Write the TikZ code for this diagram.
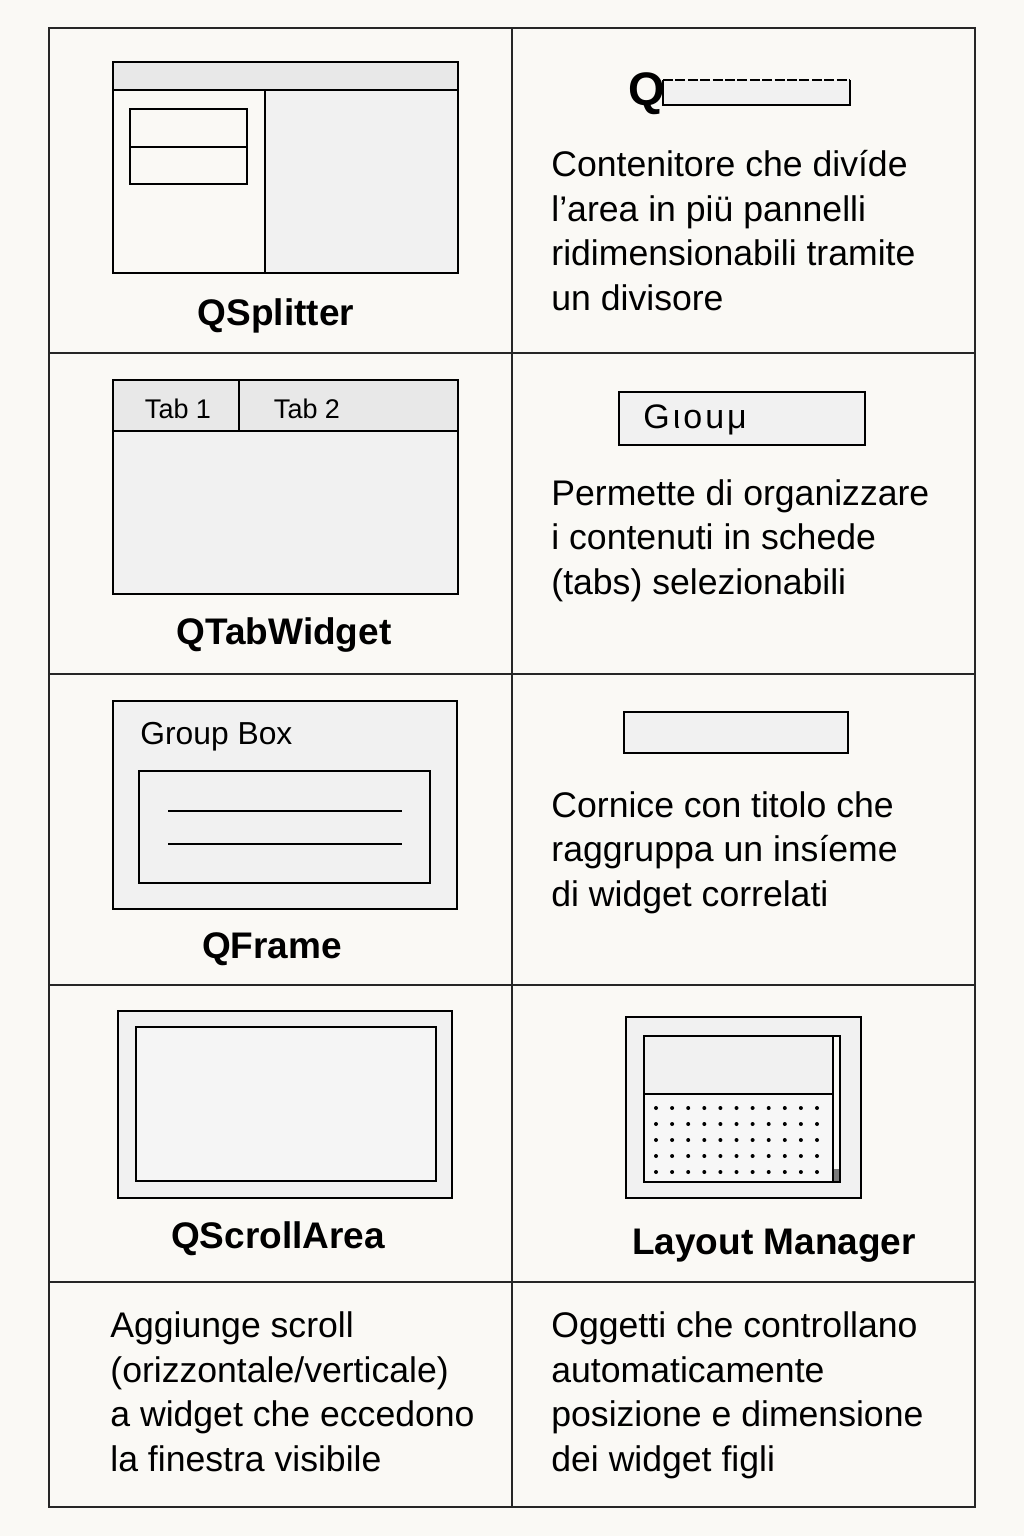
\documentclass[tikz,border=0pt]{standalone}
\usepackage{fontspec}
\setmainfont{Liberation Sans}
\definecolor{paper}{HTML}{FAF9F5}
\definecolor{panel}{HTML}{F1F1F1}
\definecolor{bar}{HTML}{E8E8E8}
\definecolor{thumb}{HTML}{7A7A7A}

\tikzstyle{grid} = [draw=black!85, line width=0.8pt]
\tikzstyle{frame} = [draw=black, line width=1.4pt]
\tikzstyle{desc} = [anchor=base west, align=left, inner sep=0pt, font=\fontsize{17.8}{22.2}\selectfont]
\tikzstyle{title} = [anchor=base, inner sep=0pt, font=\bfseries\fontsize{18.5}{22}\selectfont]
\tikzstyle{small} = [inner sep=0pt, font=\fontsize{13.5}{15}\selectfont]

\begin{document}
\begin{tikzpicture}[x=0.5pt,y=-0.5pt]

% Background
\fill[paper] (0,0) rectangle (1024,1536);
\useasboundingbox (0,0) rectangle (1024,1536);

% Table
\draw [grid] (49,28) rectangle (975,1507);
\draw [grid] (512,28) -- (512,1507);
\draw [grid] (49,353) -- (975,353);
\draw [grid] (49,674) -- (975,674);
\draw [grid] (49,985) -- (975,985);
\draw [grid] (49,1282) -- (975,1282);

% QSplitter
\fill [bar] (113,62) rectangle (458,90);
\fill [panel] (265,90) rectangle (458,273);
\draw [frame] (113,62) rectangle (458,273);
\draw [frame] (113,90) -- (458,90);
\draw [frame] (265,90) -- (265,273);
\draw [frame] (130,109) rectangle (247,184);
\draw [frame] (130,147) -- (247,147);
\node [title] (splitter) at (276,325) {QSplitter};

\node [inner sep=0pt, anchor=base east, font=\bfseries\fontsize{23.5}{26}\selectfont] (q) at (665,105) {Q};
\fill [panel] (663,80) rectangle (850,105);
\draw [line width=1.1pt] (663,80) -- (663,105) -- (850,105) -- (850,80);
\draw [line width=1.1pt, dash pattern=on 5pt off 1.2pt] (663,80) -- (850,80);
% base of a multi-line node = last line
\node [desc] (splitdesc) at (551,310) {Contenitore che divíde\\l’area in piü pannelli\\ridimensionabili tramite\\un divisore};

% QTabWidget
\fill [bar] (113,380) rectangle (458,431);
\fill [panel] (113,431) rectangle (458,594);
\draw [frame] (113,380) rectangle (458,594);
\draw [frame] (113,431) -- (458,431);
\draw [frame] (239,380) -- (239,431);
\node [small, anchor=base] (tab1) at (178,418) {Tab 1};
\node [small, anchor=base] (tab2) at (307,418) {Tab 2};
\node [title] (tabwidget) at (284,644) {QTabWidget};

\draw [frame, fill=panel, line width=1.1pt] (619,392) rectangle (865,445);
\node [inner sep=0pt, anchor=base west, font=\fontsize{17}{20}\selectfont] (group) at (643,428) {G\kern1.5pt ι\kern1.5pt o\kern1.5pt u\kern1.5pt μ};
\node [desc] (tabdesc) at (551,594) {Permette di organizzare\\i contenuti in schede\\(tabs) selezionabili};

% QFrame
\draw [frame, fill=panel] (113,701) rectangle (457,909);
\node [inner sep=0pt, anchor=base west, font=\fontsize{15.9}{18}\selectfont] (groupbox) at (140,744) {Group Box};
\draw [frame, fill=panel] (139,771) rectangle (430,883);
\draw [frame] (168,811) -- (402,811);
\draw [frame] (168,844) -- (402,844);
\node [title] (frame) at (272,958) {QFrame};

\draw [frame, fill=panel, line width=1.1pt] (624,712) rectangle (848,753);
\node [desc] (framedesc) at (551,906) {Cornice con titolo che\\raggruppa un insíeme\\di widget correlati};

% QScrollArea
\draw [frame, fill=panel] (118,1011) rectangle (452,1198);
\draw [frame, fill=panel!70!white] (136,1027) rectangle (436,1181);
\node [title] (scrollarea) at (278,1248) {QScrollArea};

% Layout Manager
\draw [frame, fill=panel] (626,1017) rectangle (861,1198);
\fill [paper] (644,1036) rectangle (840,1182);
\fill [panel] (644,1036) rectangle (833,1094);
\fill [panel!60!white] (644,1094) rectangle (833,1182);
\fill [thumb] (833,1169) rectangle (840,1182);
\draw [frame] (644,1036) rectangle (840,1182);
\draw [frame] (644,1094) -- (833,1094);
\draw [frame] (833,1036) -- (833,1182);
\foreach \i in {0,...,10}
  \foreach \j in {0,...,4}
    \fill (656+16.1*\i,1108+16*\j) circle (1pt);
\node [title] (layout) at (774,1254) {Layout Manager};

% Descriptions
\node [desc] (scrolldesc) at (110,1471) {Aggiunge scroll\\(orizzontale/verticale)\\a widget che eccedono\\la finestra visibile};
\node [desc] (layoutdesc) at (551,1471) {Oggetti che controllano\\automaticamente\\posizione e dimensione\\dei widget figli};

\end{tikzpicture}
\end{document}
